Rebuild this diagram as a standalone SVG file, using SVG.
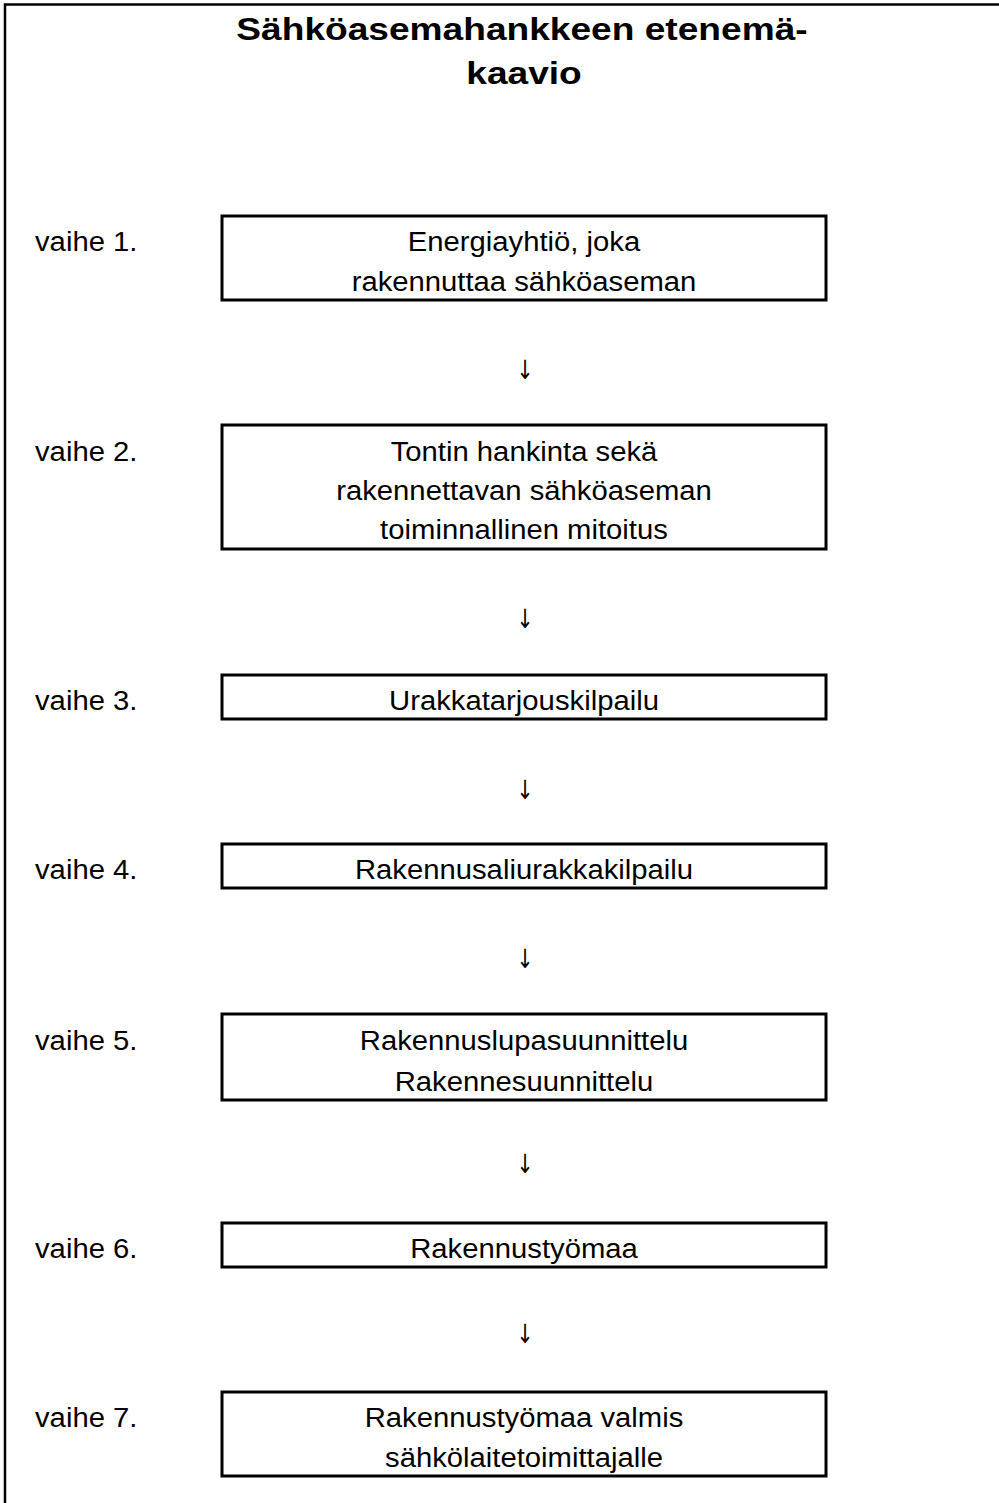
<svg xmlns="http://www.w3.org/2000/svg" width="999" height="1503" viewBox="0 0 999 1503">
<style>
.t{font-family:"Liberation Sans",Arial,sans-serif;font-size:28px;fill:#000}
.c{text-anchor:middle}
.ti{font-family:"Liberation Sans",Arial,sans-serif;font-size:32px;font-weight:bold;fill:#000;text-anchor:middle}
.ar{font-family:"DejaVu Sans",sans-serif;font-size:24px;fill:#000;text-anchor:middle}
.box{fill:#fff;stroke:#000;stroke-width:3}
.frame{fill:none;stroke:#000;stroke-width:2.5}
</style>
<rect width="999" height="1503" fill="#fff"/>
<path class="frame" d="M5,1503 V4.5 H999"/>
<g id="title">
<text class="ti" transform="translate(522,40) scale(1.16,1)">Sähköasemahankkeen etenemä-</text>
<text class="ti" transform="translate(524,84) scale(1.16,1)">kaavio</text>
</g>
<g id="labels">
<text class="t" transform="translate(35,251) scale(1.045,1)">vaihe 1.</text>
<text class="t" transform="translate(35,461) scale(1.045,1)">vaihe 2.</text>
<text class="t" transform="translate(35,710) scale(1.045,1)">vaihe 3.</text>
<text class="t" transform="translate(35,879) scale(1.045,1)">vaihe 4.</text>
<text class="t" transform="translate(35,1050) scale(1.045,1)">vaihe 5.</text>
<text class="t" transform="translate(35,1258) scale(1.045,1)">vaihe 6.</text>
<text class="t" transform="translate(35,1427) scale(1.045,1)">vaihe 7.</text>
</g>
<g id="step1">
<rect class="box" x="222" y="216" width="604" height="84"/>
<text class="t c" transform="translate(524,251) scale(1.045,1)">Energiayhtiö, joka</text>
<text class="t c" transform="translate(524,291) scale(1.045,1)">rakennuttaa sähköaseman</text>
</g>
<g id="step2">
<rect class="box" x="222" y="425" width="604" height="124"/>
<text class="t c" transform="translate(524,461) scale(1.045,1)">Tontin hankinta sekä</text>
<text class="t c" transform="translate(524,500) scale(1.045,1)">rakennettavan sähköaseman</text>
<text class="t c" transform="translate(524,539) scale(1.045,1)">toiminnallinen mitoitus</text>
</g>
<g id="step3">
<rect class="box" x="222" y="675" width="604" height="44"/>
<text class="t c" transform="translate(524,710) scale(1.045,1)">Urakkatarjouskilpailu</text>
</g>
<g id="step4">
<rect class="box" x="222" y="844" width="604" height="44"/>
<text class="t c" transform="translate(524,879) scale(1.045,1)">Rakennusaliurakkakilpailu</text>
</g>
<g id="step5">
<rect class="box" x="222" y="1014" width="604" height="86"/>
<text class="t c" transform="translate(524,1050) scale(1.045,1)">Rakennuslupasuunnittelu</text>
<text class="t c" transform="translate(524,1091) scale(1.045,1)">Rakennesuunnittelu</text>
</g>
<g id="step6">
<rect class="box" x="222" y="1223" width="604" height="44"/>
<text class="t c" transform="translate(524,1258) scale(1.045,1)">Rakennustyömaa</text>
</g>
<g id="step7">
<rect class="box" x="222" y="1392" width="604" height="84"/>
<text class="t c" transform="translate(524,1427) scale(1.045,1)">Rakennustyömaa valmis</text>
<text class="t c" transform="translate(524,1467) scale(1.045,1)">sähkölaitetoimittajalle</text>
</g>
<g id="connectors">
<text class="ar" transform="translate(525,379) scale(0.85,1.1)">↓</text>
<text class="ar" transform="translate(525,628) scale(0.85,1.1)">↓</text>
<text class="ar" transform="translate(525,799) scale(0.85,1.1)">↓</text>
<text class="ar" transform="translate(525,968) scale(0.85,1.1)">↓</text>
<text class="ar" transform="translate(525,1173) scale(0.85,1.1)">↓</text>
<text class="ar" transform="translate(525,1343) scale(0.85,1.1)">↓</text>
</g>
</svg>
